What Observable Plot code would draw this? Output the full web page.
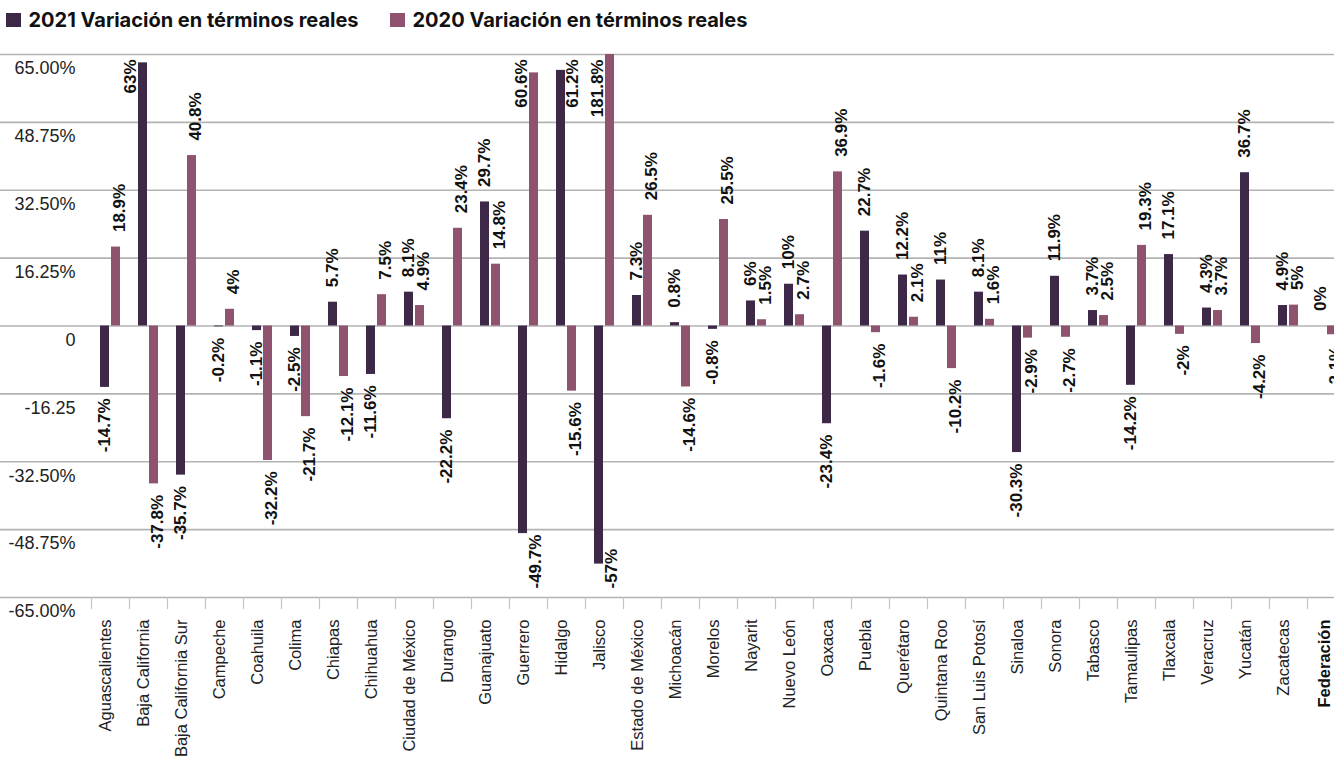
<!DOCTYPE html>
<html>
<head>
<meta charset="utf-8">
<script src="https://cdn.jsdelivr.net/npm/d3@7"></script>
<script src="https://cdn.jsdelivr.net/npm/@observablehq/plot@0.6"></script>
<style>
html, body { margin: 0; padding: 0; background: #fff; overflow: hidden; width: 1334px; height: 772px; }
#legend { height: 40px; position: relative; font-family: Inter, "Noto Sans", sans-serif; font-weight: 700; font-size: 20px; color: #111; }
#legend .item { position: absolute; top: 0; height: 40px; display: flex; align-items: center; white-space: nowrap; }
#legend .sw { width: 14.5px; height: 14.5px; margin-right: 8px; }
#chart svg { max-width: none !important; display: block; }
</style>
</head>
<body>
<div id="legend"></div>
<div id="chart"></div>
<script>
// ---- data ----
const states = ["Aguascalientes","Baja California","Baja California Sur","Campeche","Coahuila","Colima","Chiapas","Chihuahua","Ciudad de México","Durango","Guanajuato","Guerrero","Hidalgo","Jalisco","Estado de México","Michoacán","Morelos","Nayarit","Nuevo León","Oaxaca","Puebla","Querétaro","Quintana Roo","San Luis Potosí","Sinaloa","Sonora","Tabasco","Tamaulipas","Tlaxcala","Veracruz","Yucatán","Zacatecas","Federación"];
const v2021 = [-14.7, 63, -35.7, -0.2, -1.1, -2.5, 5.7, -11.6, 8.1, -22.2, 29.7, -49.7, 61.2, -57, 7.3, 0.8, -0.8, 6, 10, -23.4, 22.7, 12.2, 11, 8.1, -30.3, 11.9, 3.7, -14.2, 17.1, 4.3, 36.7, 4.9, 0];
const v2020 = [18.9, -37.8, 40.8, 4, -32.2, -21.7, -12.1, 7.5, 4.9, 23.4, 14.8, 60.6, -15.6, 181.8, 26.5, -14.6, 25.5, 1.5, 2.7, 36.9, -1.6, 2.1, -10.2, 1.6, -2.9, -2.7, 2.5, 19.3, -2, 3.7, -4.2, 5, -2.1];
const seriesKeys = ["2021", "2020"];
const seriesNames = ["2021 Variación en términos reales", "2020 Variación en términos reales"];
const seriesColors = ["#3e2848", "#8f5370"];
const yDomain = [-65, 65];
const yTicks = [65, 48.75, 32.5, 16.25, 0, -16.25, -32.5, -48.75, -65];
const yTickLabels = ["65.00%", "48.75%", "32.50%", "16.25%", "0", "-16.25", "-32.50%", "-48.75%", "-65.00%"];
const totalCategory = "Federación";
const labelsOnRight = ["Hidalgo-2021"]; // top-clipped labels placed right of the bar

// ---- legend ----
const legend = document.getElementById("legend");
const legendLeft = [6, 390];
seriesNames.forEach((n, i) => {
  const it = document.createElement("div");
  it.className = "item";
  it.style.left = legendLeft[i] + "px";
  it.innerHTML = `<span class="sw" style="background:${seriesColors[i]}"></span><span>${n}</span>`;
  legend.appendChild(it);
});

// ---- table ----
const rows = states.flatMap((s, i) => [
  {state: s, series: "2021", value: v2021[i]},
  {state: s, series: "2020", value: v2020[i]}
]);
const color = s => seriesColors[seriesKeys.indexOf(s)];
const labelFont = {fontFamily: "Liberation Sans, Arial, sans-serif", fontWeight: "bold", fontSize: 17, fill: "#111", rotate: -90};
const txt = d => `${d.value}%`;
const highClip = d => d.value > 50;
const lowClip = d => d.value < -45;
const barDx = {"2021": -5.5, "2020": 5.5};
const lblDx = {"2021": -5.5, "2020": 9};

const marks = [
  Plot.ruleY(yTicks, {y: d => d, stroke: "#b3b3b3", strokeWidth: 1.6}),
  // band-boundary ticks below the axis
  Plot.axisX({ticks: states, tickFormat: () => "", tickSize: 12, dx: -19, stroke: "#c4c4c4", strokeWidth: 1.2, label: null}),
  Plot.barY(rows.filter(d => d.series === "2021"), {x: "state", y: "value", fill: color("2021"), insetLeft: 9, insetRight: 20, clip: true}),
  Plot.barY(rows.filter(d => d.series === "2020"), {x: "state", y: "value", fill: color("2020"), insetLeft: 20, insetRight: 9, clip: true}),
  // y tick labels
  Plot.text(yTicks, {y: d => d, text: (d, i) => yTickLabels[i], frameAnchor: "left", dx: 75, dy: 14, textAnchor: "end",
    fontFamily: "Liberation Sans, Arial, sans-serif", fontSize: 18, fill: "#222"}),
  // x category labels
  Plot.text(states.filter(s => s !== totalCategory), {x: d => d, text: d => d, frameAnchor: "bottom", rotate: -90, textAnchor: "end", dy: 22,
    fontFamily: "Liberation Sans, Arial, sans-serif", fontSize: 16.5, fill: "#222"}),
  Plot.text([totalCategory], {x: d => d, text: d => d, frameAnchor: "bottom", rotate: -90, textAnchor: "end", dy: 22, dx: 3,
    fontFamily: "Liberation Sans, Arial, sans-serif", fontSize: 16.5, fontWeight: "bold", fill: "#111"})
];

for (const s of seriesKeys) {
  const sub = rows.filter(d => d.series === s);
  // positive values above the bar
  marks.push(Plot.text(sub.filter(d => d.value >= 0 && !highClip(d)), {x: "state", y: "value", text: txt, textAnchor: "start", dx: lblDx[s], dy: -15, ...labelFont}));
  // negative values below the bar
  marks.push(Plot.text(sub.filter(d => d.value < 0 && !lowClip(d)), {x: "state", y: "value", text: txt, textAnchor: "end", dx: lblDx[s], dy: 11, ...labelFont}));
  // labels of bars reaching the top, placed beside the bar
  marks.push(Plot.text(sub.filter(d => highClip(d) && !labelsOnRight.includes(`${d.state}-${s}`)), {x: "state", y: () => yDomain[1], text: txt, textAnchor: "end", dx: barDx[s] - 12, dy: 5, ...labelFont}));
  marks.push(Plot.text(sub.filter(d => highClip(d) && labelsOnRight.includes(`${d.state}-${s}`)), {x: "state", y: () => yDomain[1], text: txt, textAnchor: "end", dx: barDx[s] + 11.5, dy: 5, ...labelFont}));
  // labels of bars reaching the bottom, placed right of the bar
  marks.push(Plot.text(sub.filter(lowClip), {x: "state", y: () => yDomain[0], text: txt, textAnchor: "start", dx: barDx[s] + 13, dy: -9, ...labelFont}));
}

const chart = Plot.plot({
  width: 1350,
  height: 732,
  marginLeft: 0,
  marginRight: 0,
  marginTop: 14,
  marginBottom: 175,
  style: {fontFamily: "Liberation Sans, Arial, sans-serif", background: "#fff", overflow: "visible"},
  x: {type: "band", domain: states, range: [91, 1345], padding: 0, axis: null},
  y: {domain: yDomain, axis: null},
  marks
});
document.getElementById("chart").appendChild(chart);
</script>
</body>
</html>
